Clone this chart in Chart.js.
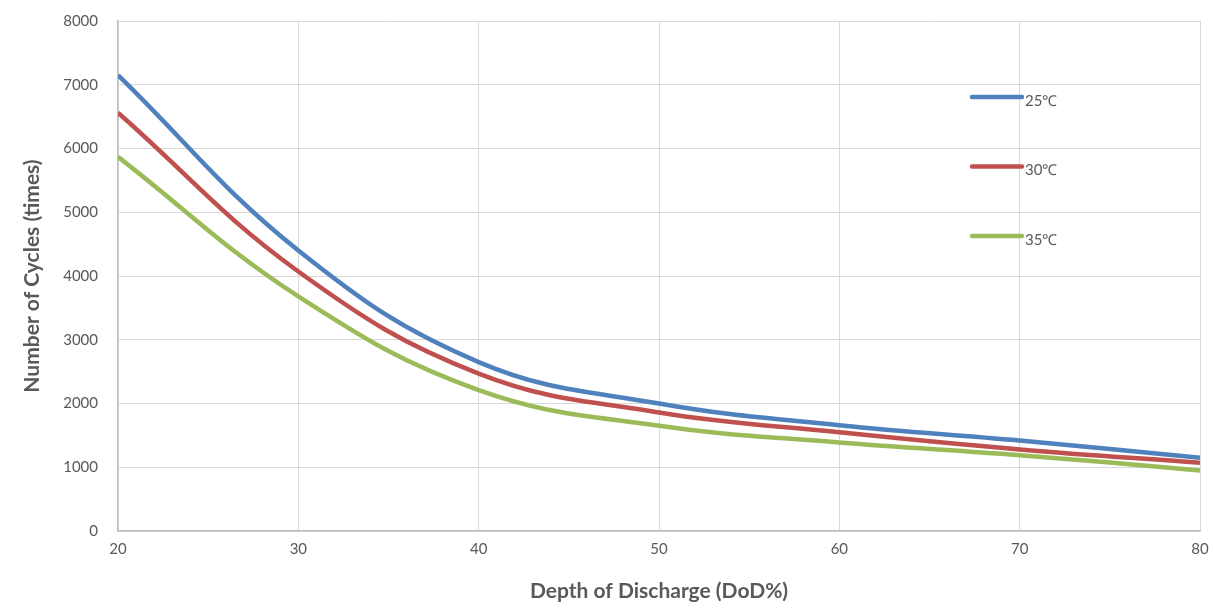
<!DOCTYPE html>
<html>
<head>
<meta charset="utf-8">
<script src="https://cdn.jsdelivr.net/npm/chart.js@4"></script>
<style>
html,body{margin:0;padding:0;background:#fff;}
#wrap{width:1213px;height:608px;}
</style>
</head>
<body>
<div id="wrap"><canvas id="c" width="1213" height="608"></canvas></div>
<script>
const dod = [20, 30, 40, 50, 60, 70, 80];
const cycles25 = [7150, 4400, 2650, 2000, 1660, 1420, 1150];
const cycles30 = [6560, 4070, 2470, 1860, 1550, 1280, 1070];
const cycles35 = [5870, 3680, 2210, 1650, 1390, 1190, 950];
const seriesLabels = ['25\u2103', '30\u2103', '35\u2103'];
const seriesColors = ['#4F81BD', '#C0504D', '#9BBB59'];
const xTitle = 'Depth of Discharge (DoD%)';
const yTitle = 'Number of Cycles (times)';

const allSeries = [cycles25, cycles30, cycles35];
const datasets = allSeries.map((vals, i) => ({
  label: seriesLabels[i],
  data: dod.map((x, j) => ({x: x, y: vals[j]})),
  borderColor: seriesColors[i],
  backgroundColor: seriesColors[i],
  borderWidth: 4.5,
  pointRadius: 0,
  tension: 0.4,
  fill: false
}));

const insideLegend = {
  id: 'insideLegend',
  afterDatasetsDraw(chart) {
    const ctx = chart.ctx;
    const a = chart.chartArea;
    const x0 = a.left + 854;
    ctx.save();
    chart.data.datasets.forEach((ds, i) => {
      const y = a.top + 76 + i * 69.5;
      ctx.strokeStyle = ds.borderColor;
      ctx.lineWidth = 4.5;
      ctx.lineCap = 'round';
      ctx.beginPath();
      ctx.moveTo(x0, y);
      ctx.lineTo(x0 + 50, y);
      ctx.stroke();
      ctx.fillStyle = '#595959';
      ctx.font = '15px Lato, "Open Sans", sans-serif';
      ctx.textAlign = 'left';
      ctx.textBaseline = 'middle';
      ctx.fillText(ds.label, x0 + 53, y + 4);
    });
    ctx.restore();
  }
};

const plainTick = v => String(v);

new Chart(document.getElementById('c'), {
  type: 'line',
  data: { datasets: datasets },
  plugins: [insideLegend],
  options: {
    responsive: false,
    animation: false,
    devicePixelRatio: 1,
    layout: { padding: { left: 0, right: 13, top: 21, bottom: 0 } },
    plugins: { legend: { display: false }, tooltip: { enabled: false } },
    scales: {
      x: {
        type: 'linear',
        min: 20, max: 80,
        ticks: { stepSize: 10, color: '#595959', padding: 9, callback: plainTick,
                 font: { size: 15, family: 'Lato, "Open Sans", sans-serif' } },
        grid: { color: '#d9d9d9', lineWidth: 1, drawTicks: false },
        border: { color: '#bfbfbf', width: 1.5 },
        title: { display: true, text: xTitle, color: '#595959', padding: { top: 0, bottom: 4 },
                 font: { size: 21, weight: 'bold', family: 'Lato, "Open Sans", sans-serif' } },
        afterFit(scale) { scale.height = 77; scale.paddingLeft = 0; scale.paddingRight = 0; }
      },
      y: {
        type: 'linear',
        min: 0, max: 8000,
        ticks: { stepSize: 1000, color: '#595959', padding: 20, callback: plainTick,
                 font: { size: 15, family: 'Lato, "Open Sans", sans-serif' } },
        grid: { color: '#d9d9d9', lineWidth: 1, drawTicks: false },
        border: { color: '#bfbfbf', width: 1.5 },
        title: { display: true, text: yTitle, color: '#595959', padding: { top: 20, bottom: 0 },
                 font: { size: 21, weight: 'bold', family: 'Lato, "Open Sans", sans-serif' } },
        afterFit(scale) { scale.width = 118; scale.paddingTop = 0; scale.paddingBottom = 0; }
      }
    }
  }
});
</script>
</body>
</html>
